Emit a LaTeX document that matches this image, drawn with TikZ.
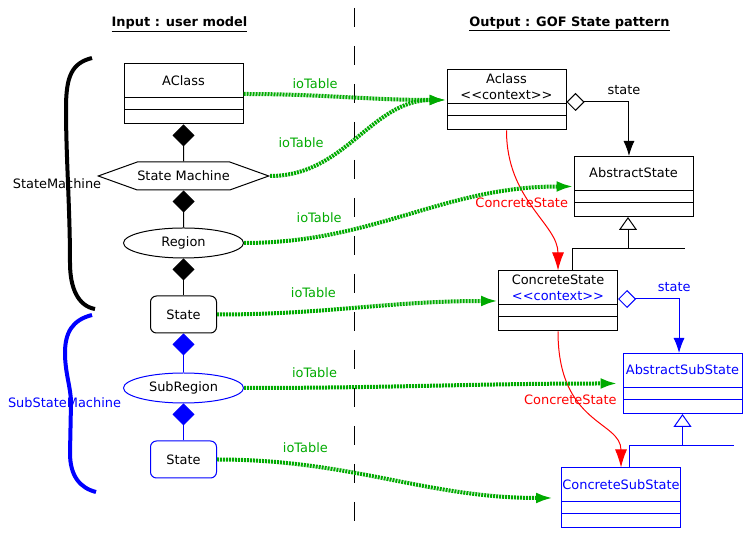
\documentclass[tikz,border=0pt]{standalone}
\usepackage{fontspec}
\setmainfont{DejaVu Sans}
\usepackage{tikz}
\usetikzlibrary{shapes.geometric, shapes.symbols, arrows.meta, positioning, calc}
\definecolor{iogreen}{RGB}{0,170,0}

\begin{document}
\begin{tikzpicture}[
        x=0.75pt, y=0.75pt, line width=0.75pt,
        font=\fontsize{9.7}{12}\selectfont,
        title/.style={font=\fontsize{9.7}{12}\selectfont\bfseries},
        umlclass/.style={rectangle, draw, minimum width=89.25pt, minimum height=45pt, inner sep=0pt,
            path picture={
                \draw ([yshift=-25.5pt]path picture bounding box.north west) -- ([yshift=-25.5pt]path picture bounding box.north east);
                \draw ([yshift=-34.5pt]path picture bounding box.north west) -- ([yshift=-34.5pt]path picture bounding box.north east);},
            label={[anchor=center, yshift=-12.75pt, align=center]north:#1}},
        hexa/.style={signal, signal to=west and east, signal pointer angle=39.5, draw, minimum width=120.75pt, minimum height=21pt, inner sep=0pt},
        region/.style={ellipse, draw, minimum width=90pt, minimum height=22.5pt, inner sep=0pt},
        statebox/.style={rectangle, draw, rounded corners=4.5pt, minimum width=49.5pt, minimum height=27.75pt},
        comp/.style={-{Diamond[length=16.5pt,width=16.5pt]}},
        assoc/.style={{Diamond[open,length=13.5pt,width=13.5pt]}-{Latex[length=11.25pt,width=8.25pt]}},
        inherit/.style={-{Triangle[open,length=9.75pt,width=13.5pt]}},
        realize/.style={red, -{Latex[length=13.5pt,width=9pt]}},
        ioflow/.style={draw=iogreen, line width=3pt, dash pattern=on 1.5pt off 0.75pt, -{Latex[length=12.75pt,width=8.25pt]}},
        iolabel/.style={text=iogreen},
        brace/.style={line width=3pt},
        separator/.style={dash pattern=on 14.25pt off 14.25pt}
    ]
        \useasboundingbox (0,0) rectangle (749,538);

        % titles and separator
        \node[title] (inTitle) at (179.5,514) {\underline{Input : user model}};
        \node[title] (outTitle) at (569.5,514) {\underline{Output : GOF State pattern}};
        \coordinate (sepTop) at (354,530);
        \coordinate (sepBot) at (354,8);
        \draw[separator] (sepTop) -- (sepBot);

        % input : user model
        \node[umlclass={AClass}] (aclassIn) at (183.5,444) {};
        \node[hexa] (machine) at (183.5,362) {State Machine};
        \node[region] (region) at (183.5,295) {Region};
        \node[statebox] (state) at (183.5,223.5) {State};
        \node[region, draw=blue] (subRegion) at (183.5,150) {SubRegion};
        \node[statebox, draw=blue] (subState) at (183.5,78.5) {State};

        \draw[comp] (machine) -- (aclassIn);
        \draw[comp] (region) -- (machine);
        \draw[comp] (state) -- (region);
        \draw[comp, blue] (subRegion) -- (state);
        \draw[comp, blue] (subState) -- (subRegion);

        \draw[brace] (92,480) .. controls (72,475) and (66,462) .. (66,430)
            .. controls (66,380) and (70,330) .. (70,275)
            .. controls (70,250) and (78,232) .. (95,229);
        \node (smLabel) at (57,354) {StateMachine};
        \draw[brace, blue] (92,223) .. controls (72,218) and (65,205) .. (65,185)
            .. controls (65,165) and (71,150) .. (71,135) -- (70,85)
            .. controls (70,62) and (80,50) .. (96,46);
        \node[text=blue] (subSmLabel) at (64.5,135) {SubStateMachine};

        % output : GOF state pattern
        \node[umlclass={Aclass\\<{}<context>{}>}] (aclassOut) at (506.5,438) {};
        \node[umlclass={AbstractState}] (absState) at (633.5,351.5) {};
        \node[umlclass={ConcreteState\\\textcolor{blue}{<{}<context>{}>}}] (concState) at (558,237) {};
        \node[umlclass={\textcolor{blue}{AbstractSubState}}, blue] (absSubState) at (682.5,154.5) {};
        \node[umlclass={\textcolor{blue}{ConcreteSubState}}, blue] (concSubState) at (621,40) {};

        \draw[assoc] ([yshift=-1.5pt]aclassOut.east) -| ([xshift=-3.4pt]absState.north)
            node[pos=0.46, above=2pt] (stateLbl) {state};
        \draw[assoc, blue] ([yshift=1.5pt]concState.east) -| ([xshift=-2.6pt]absSubState.north)
            node[pos=0.46, above=2pt] (subStateLbl) {state};

        \coordinate (genJoin) at (628,289);
        \coordinate (genEnd) at (685,289);
        \draw ([xshift=10.5pt]concState.north) |- (genEnd);
        \draw[inherit] (genJoin) -- (genJoin |- absState.south);
        \coordinate (subGenJoin) at (682.5,92);
        \coordinate (subGenEnd) at (734,92);
        \draw[blue] ([xshift=6pt]concSubState.north) |- (subGenEnd);
        \draw[inherit, blue] (subGenJoin) -- (absSubState.south);

        \draw[realize] (aclassOut.south) to[out=-90, in=90, out looseness=1.2, in looseness=0.8]
            node[pos=0.45, xshift=-5pt] (realLbl) {ConcreteState} (concState.north);
        \draw[realize] (concState.south) to[out=-90, in=90, out looseness=1.6, in looseness=0.8]
            node[pos=0.35, xshift=-4pt] (subRealLbl) {ConcreteState} (concSubState.north);

        % ioTable links
        \draw[ioflow] (aclassIn.east) to[out=0, in=180]
            node[iolabel, pos=0.34, above] (io1) {ioTable} (aclassOut.west);
        \draw[ioflow] (machine.east) to[out=0, in=180]
            node[iolabel, pos=0.15, above=12.75pt] (io2) {ioTable} (aclassOut.west);
        \draw[ioflow] (region.east) to[out=0, in=180]
            node[iolabel, pos=0.21, above=5.7pt] (io3) {ioTable} (absState.west);
        \draw[ioflow] (state.east) to[out=0, in=180]
            node[iolabel, pos=0.33, above=5pt] (io4) {ioTable} (concState.west);
        \draw[ioflow, shorten >=3.75pt] (subRegion.east) to[out=0, in=180]
            node[iolabel, pos=0.17, above=2.7pt] (io5) {ioTable} (absSubState.west);
        \draw[ioflow, shorten >=6pt] (subState.east) to[out=0, in=180]
            node[iolabel, pos=0.24, above=4.2pt] (io6) {ioTable} (concSubState.west);
\end{tikzpicture}
\end{document}
